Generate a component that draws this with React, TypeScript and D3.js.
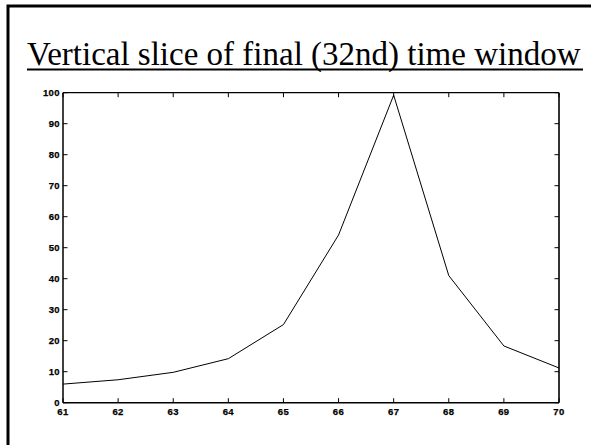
import React from "react";
import * as d3 from "d3";

const xValues = [61, 62, 63, 64, 65, 66, 67, 68, 69, 70];
const yValues = [6.0, 7.4, 9.8, 14.2, 25.2, 54.1, 99.2, 41.0, 18.3, 11.2];
const xTicks = [61, 62, 63, 64, 65, 66, 67, 68, 69, 70];
const yTicks = [0, 10, 20, 30, 40, 50, 60, 70, 80, 90, 100];
const title = "Vertical slice of final (32nd) time window";

export default function App() {
  const W = 591, H = 445;
  const left = 63, right = 559, top = 92.7, bottom = 402.7;
  const x = d3.scaleLinear().domain([61, 70]).range([left, right]);
  const y = d3.scaleLinear().domain([0, 100]).range([bottom, top]);
  const line = d3.line<number>().x((_, i) => x(xValues[i])).y((d) => y(d));
  const tickLen = 4.5;
  const tickFont = {
    fontFamily: "'Liberation Sans', Arial, sans-serif",
    fontWeight: 700,
    fontSize: 9.5,
    letterSpacing: 0.4,
    stroke: "#000",
    strokeWidth: 0.25,
  } as const;
  return (
    <svg width={W} height={H} style={{ position: "absolute", left: 0, top: 0, background: "#fff" }}>
      <rect x={0} y={0} width={W} height={H} fill="#fff" />
      {/* frame */}
      <path d={`M8,${H + 5} L8,6 L${W + 5},6`} fill="none" stroke="#000" strokeWidth={3} />
      {/* title */}
      <text x={27} y={65} fontFamily="'Liberation Serif', 'Times New Roman', serif" fontSize={33} fill="#000">
        {title}
      </text>
      <line x1={27} x2={583} y1={69.5} y2={69.5} stroke="#000" strokeWidth={2} />
      {/* axes box */}
      <line x1={left} x2={right} y1={top} y2={top} stroke="#000" strokeWidth={1.2} />
      <line x1={right} x2={right} y1={top} y2={bottom} stroke="#333" strokeWidth={2} />
      <line x1={left} x2={left} y1={top} y2={bottom} stroke="#000" strokeWidth={1.5} />
      <line x1={left} x2={right} y1={bottom} y2={bottom} stroke="#000" strokeWidth={1.5} />
      {xTicks.map((t) => (
        <g key={"x" + t}>
          <line x1={x(t)} x2={x(t)} y1={bottom} y2={bottom - tickLen} stroke="#000" strokeWidth={1} />
          <line x1={x(t)} x2={x(t)} y1={top} y2={top + tickLen} stroke="#000" strokeWidth={1} />
          <text x={x(t)} y={bottom + 12.5} textAnchor="middle" {...tickFont}>{t}</text>
        </g>
      ))}
      {yTicks.map((t) => (
        <g key={"y" + t}>
          <line x1={left} x2={left + tickLen} y1={y(t)} y2={y(t)} stroke="#000" strokeWidth={1} />
          <line x1={right} x2={right - tickLen} y1={y(t)} y2={y(t)} stroke="#000" strokeWidth={1} />
          <text x={left - 3} y={y(t) + 3} textAnchor="end" {...tickFont}>{t}</text>
        </g>
      ))}
      <path d={line(yValues) || ""} fill="none" stroke="#000" strokeWidth={1} />
    </svg>
  );
}
